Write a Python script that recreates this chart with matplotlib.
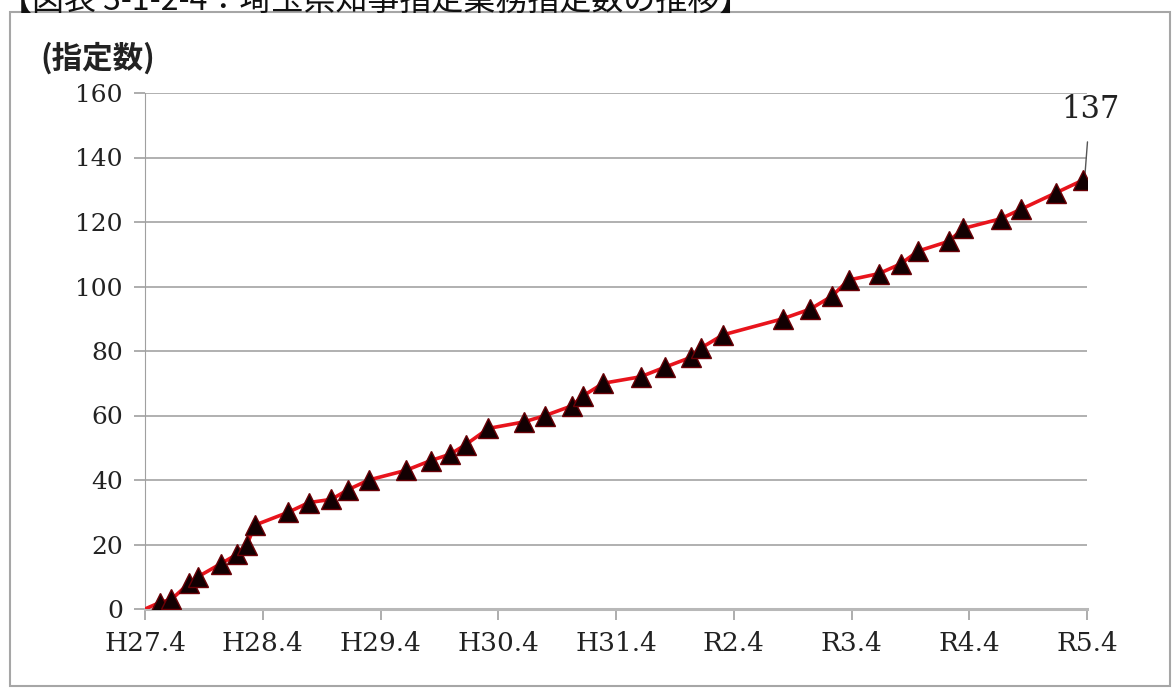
import matplotlib.pyplot as plt
from matplotlib.patches import Rectangle

# データ（H27.4からの経過月数と指定数）
months = [0, 1.5, 2.7, 4.5, 5.4, 7.7, 9.4, 10.4, 11.2, 14.6, 16.7, 19.0, 20.7, 22.8,
          26.6, 29.1, 31.1, 32.7, 35.0, 38.6, 40.8, 43.5, 44.6, 46.7, 50.5, 53.0,
          55.6, 56.7, 58.9, 65.0, 67.8, 70.0, 71.7, 74.8, 77.0, 78.8, 81.9, 83.4,
          87.2, 89.3, 92.8, 95.6]
counts = [0, 2, 3, 8, 10, 14, 17, 20, 26, 30, 33, 34, 37, 40,
          43, 46, 48, 51, 56, 58, 60, 63, 66, 70, 72, 75,
          78, 81, 85, 90, 93, 97, 102, 104, 107, 111, 114, 118,
          121, 124, 129, 133]
tick_labels = ["H27.4", "H28.4", "H29.4", "H30.4", "H31.4", "R2.4", "R3.4", "R4.4", "R5.4"]
last_label = "137"
title = "【図表 3-1-2-4：埼玉県知事指定業務指定数の推移】"

cjk = ["Noto Sans CJK JP", "DejaVu Sans"]
serif = "DejaVu Serif"

fig = plt.figure(figsize=(11.74, 6.89), dpi=100)

# 外枠
fig.patches.append(Rectangle((10 / 1174, 3 / 689), 1160 / 1174, 674 / 689,
                             transform=fig.transFigure, fill=False,
                             edgecolor="#a6a6a6", linewidth=1.5))
# 上で切れているタイトル（元の図でも上半分が切れている）
fig.text(0.0, 0.999, title, family=cjk, fontsize=23, ha="left", va="center", color="#111111")

ax = fig.add_axes([145 / 1174, 1 - 609 / 689, 942 / 1174, 516 / 689])
ax.plot(months, counts, color="#e8141c", linewidth=2.6, zorder=3)
ax.plot(months[1:], counts[1:], linestyle="none", marker="^", markersize=15,
        markerfacecolor="#120002", markeredgecolor="#6a0006", markeredgewidth=1, zorder=4)

ax.set_xlim(0, 96)
ax.set_ylim(0, 160)
ax.set_xticks(range(0, 97, 12))
ax.set_xticklabels(tick_labels, family=serif, fontsize=19, color="#222222")
ax.set_yticks(range(0, 161, 20))
ax.set_yticklabels([str(v) for v in range(0, 161, 20)], family=serif, fontsize=18, color="#222222")
ax.tick_params(axis="both", length=8, width=1.2, color="#a0a0a0", pad=8)
ax.grid(axis="y", color="#b0b0b0", linewidth=1.4)
ax.set_axisbelow(True)
for s in ["top", "right"]:
    ax.spines[s].set_visible(False)
ax.spines["left"].set_color("#a0a0a0")
ax.spines["bottom"].set_color("#b8b8b8")
ax.spines["bottom"].set_linewidth(2.2)

# 最終値のラベル
ax.annotate(last_label, xy=(months[-1] + 0.2, counts[-1] + 2), xytext=(months[-1] + 0.7, 150),
            family=serif, fontsize=22, ha="center", va="bottom", color="#222222",
            arrowprops=dict(arrowstyle="-", color="#555555", linewidth=1, shrinkA=10, shrinkB=0))

fig.text(40 / 1174, 1 - 58 / 689, "(指定数)", family=cjk, fontsize=22, fontweight="bold",
         ha="left", va="center", color="#222222")

fig.savefig("out.png", dpi=100)
